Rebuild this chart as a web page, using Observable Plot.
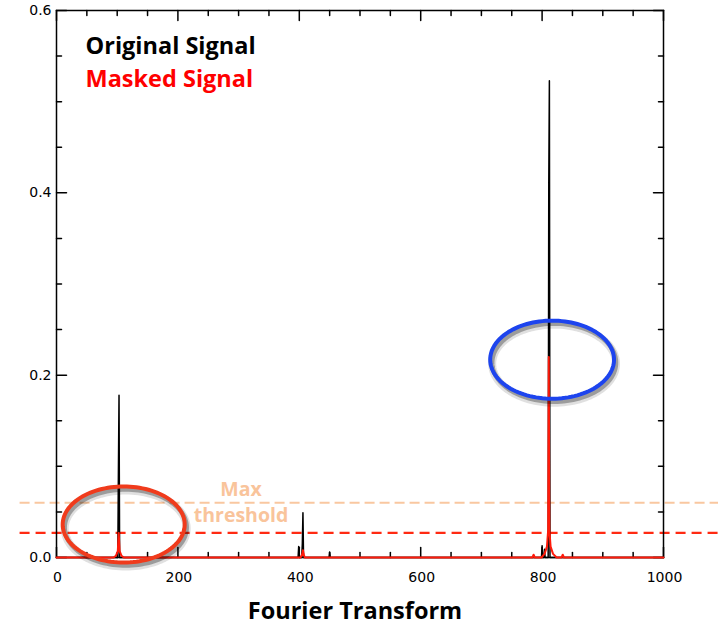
<!DOCTYPE html>
<html><head><meta charset="utf-8">
<script src="https://cdn.jsdelivr.net/npm/d3@7"></script>
<script src="https://cdn.jsdelivr.net/npm/@observablehq/plot@0.6"></script>
<style>
html,body{margin:0;padding:0;background:#fff;}
</style></head><body><div id="chart"></div>
<script>
// Original signal (black)
const origFreq = [0, 101, 102, 103, 104, 398, 399, 400, 404, 405, 406, 407, 449, 450, 451, 799, 800, 801, 803, 804, 805, 810, 811, 812, 813, 1000];
const origAmp  = [0, 0, 0.095, 0.178, 0, 0, 0.012, 0, 0, 0.015, 0.049, 0, 0, 0.006, 0, 0, 0.013, 0, 0, 0.009, 0, 0, 0.411, 0.523, 0, 0];
// Masked signal (red)
const maskFreq = [0, 94, 98, 101, 102.5, 104, 107, 111, 402, 405, 406, 407, 409, 784, 786, 788, 799, 804, 808, 810, 811, 812, 814, 818, 824, 832, 834, 836, 1000];
const maskAmp  = [0, 0, 0.002, 0.007, 0.027, 0.007, 0.002, 0, 0, 0.004, 0.008, 0.004, 0, 0, 0.003, 0, 0, 0.004, 0.012, 0.03, 0.22, 0.03, 0.012, 0.004, 0, 0, 0.003, 0, 0];
// thresholds
const thresholdLabels = ["Max threshold", "Mask threshold"];
const thresholdValues = [0.06, 0.027];
// ticks
const xMajorTicks = [0, 200, 400, 600, 800, 1000];
const xMinorTicks = [50, 100, 150, 250, 300, 350, 450, 500, 550, 650, 700, 750, 850, 900, 950];
const yMajorTicks = [0, 0.2, 0.4, 0.6];
const yMinorTicks = [0.05, 0.1, 0.15, 0.25, 0.3, 0.35, 0.45, 0.5, 0.55];
// legend
const legendLabels = ["Original Signal", "Masked Signal"];
// highlight ellipses (center x, center y, radius x, radius y in data units)
const ellipseNames = ["low", "peak"];
const ellipseCx = [110.7, 816.5];
const ellipseCy = [0.0362, 0.217];
const ellipseRx = [100.5, 102];
const ellipseRy = [0.0417, 0.0428];

const orig = origFreq.map((f, i) => ({f, a: origAmp[i]}));
const mask = maskFreq.map((f, i) => ({f, a: maskAmp[i]}));
const thresholds = thresholdValues.map((v, i) => ({v, name: thresholdLabels[i]}));
const ellipsePts = [];
ellipseNames.forEach((n, i) => {
  for (let k = 0; k < 120; k++) {
    const t = (k / 120) * 2 * Math.PI;
    ellipsePts.push({n, x: ellipseCx[i] + ellipseRx[i] * Math.cos(t), y: ellipseCy[i] + ellipseRy[i] * Math.sin(t)});
  }
});
const ellipseColor = {low: "#f03b1c", peak: "#1d44ee"};

const tickShape = {draw(context, l) { context.moveTo(0, 0); context.lineTo(0, -l); }};
const labelFont = "DejaVu Sans, sans-serif";
const titleFont = "'Open Sans', Lato, sans-serif";

const chart = Plot.plot({
  width: 718, height: 625,
  marginTop: 10, marginLeft: 56, marginRight: 55, marginBottom: 68,
  x: {domain: [0, 1000], axis: null},
  y: {domain: [0, 0.6], axis: null},
  marks: [
    // threshold dashed lines
    Plot.ruleY([thresholds[0]], {y: "v", x1: -60, x2: 1095, stroke: "#f9c7a0", strokeWidth: 2, strokeDasharray: "10,5"}),
    Plot.ruleY([thresholds[1]], {y: "v", x1: -60, x2: 1095, stroke: "#ff2a12", strokeWidth: 2.2, strokeDasharray: "10,6"}),
    // frame
    Plot.frame({stroke: "black", strokeWidth: 1.5}),
    // ticks (inward, all four sides)
    Plot.vector(xMajorTicks, {x: d => d, y: 0, length: 10, anchor: "start", shape: tickShape, stroke: "black", strokeWidth: 1.5}),
    Plot.vector(xMinorTicks, {x: d => d, y: 0, length: 5, anchor: "start", shape: tickShape, stroke: "black", strokeWidth: 1.5}),
    Plot.vector(xMajorTicks, {x: d => d, y: 0.6, length: 10, rotate: 180, anchor: "start", shape: tickShape, stroke: "black", strokeWidth: 1.5}),
    Plot.vector(xMinorTicks, {x: d => d, y: 0.6, length: 5, rotate: 180, anchor: "start", shape: tickShape, stroke: "black", strokeWidth: 1.5}),
    Plot.vector(yMajorTicks, {x: 0, y: d => d, length: 10, rotate: 90, anchor: "start", shape: tickShape, stroke: "black", strokeWidth: 1.5}),
    Plot.vector(yMinorTicks, {x: 0, y: d => d, length: 5, rotate: 90, anchor: "start", shape: tickShape, stroke: "black", strokeWidth: 1.5}),
    Plot.vector(yMajorTicks, {x: 1000, y: d => d, length: 10, rotate: -90, anchor: "start", shape: tickShape, stroke: "black", strokeWidth: 1.5}),
    Plot.vector(yMinorTicks, {x: 1000, y: d => d, length: 5, rotate: -90, anchor: "start", shape: tickShape, stroke: "black", strokeWidth: 1.5}),
    // tick labels
    Plot.text(xMajorTicks, {x: d => d, y: 0, dy: 20, dx: 1, text: d => String(d), fontFamily: labelFont, fontSize: 14, fill: "black", style: "letter-spacing:1.5px"}),
    Plot.text(yMajorTicks, {x: 0, y: d => d, dx: -5, text: d => d3.format(".1f")(d), textAnchor: "end", fontFamily: labelFont, fontSize: 14, fill: "black", style: "letter-spacing:1px"}),
    // signals
    Plot.line(orig, {x: "f", y: "a", stroke: "black", strokeWidth: 1.5}),
    Plot.line(mask, {x: "f", y: "a", stroke: "#ff1a0a", strokeWidth: 2}),
    // ellipses with soft shadow
    Plot.line(ellipsePts, {x: "x", y: "y", z: "n", curve: "linear-closed", stroke: "#000", strokeOpacity: 0.12, strokeWidth: 8, dx: 2, dy: 4}),
    Plot.line(ellipsePts, {x: "x", y: "y", z: "n", curve: "linear-closed", stroke: "#000", strokeOpacity: 0.3, strokeWidth: 4.5, dx: 2, dy: 3}),
    Plot.line(ellipsePts, {x: "x", y: "y", z: "n", curve: "linear-closed", stroke: d => ellipseColor[d.n], strokeWidth: 4}),
    // legend text
    Plot.text([legendLabels[0]], {frameAnchor: "top-left", dx: 29, dy: 43, text: d => d, textAnchor: "start", lineAnchor: "bottom", fontFamily: titleFont, fontWeight: "bold", fontSize: 23.5, fill: "black"}),
    Plot.text([legendLabels[1]], {frameAnchor: "top-left", dx: 29, dy: 76.5, text: d => d, textAnchor: "start", lineAnchor: "bottom", fontFamily: titleFont, fontWeight: "bold", fontSize: 23.5, fill: "#ff0000"}),
    // threshold label
    Plot.text([thresholds[0]], {x: 304, y: "v", dy: -6.5, text: d => d.name.split(" ")[0], lineAnchor: "bottom", fontFamily: titleFont, fontWeight: "bold", fontSize: 19.5, fill: "#f9c49b"}),
    Plot.text([thresholds[0]], {x: 304, y: "v", dy: 19.5, text: d => d.name.split(" ")[1], lineAnchor: "bottom", fontFamily: titleFont, fontWeight: "bold", fontSize: 19.5, fill: "#f9c49b"}),
    // x-axis title
    Plot.text(["Fourier Transform"], {frameAnchor: "bottom", dx: -5, dy: 61, text: d => d, lineAnchor: "bottom", fontFamily: titleFont, fontWeight: "bold", fontSize: 23.5, fill: "black"})
  ]
});
document.getElementById("chart").appendChild(chart);
</script></body></html>
